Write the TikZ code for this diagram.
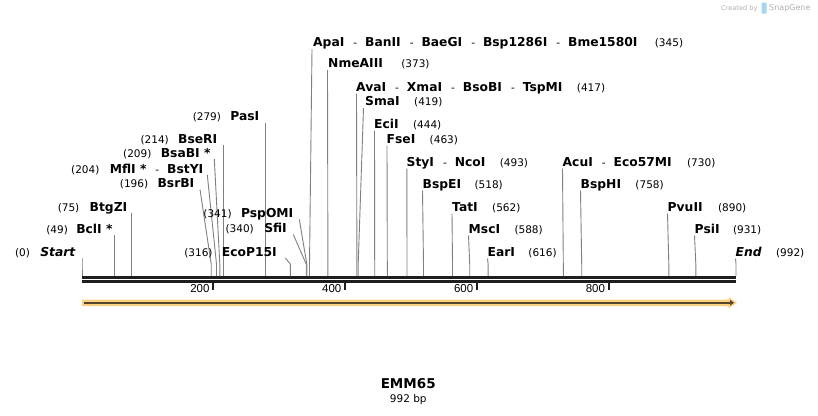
\documentclass[tikz,border=0pt]{standalone}
\usepackage{fontspec}
\setmainfont{DejaVu Sans}
\newfontfamily\tickfont{Liberation Sans}
\usetikzlibrary{arrows.meta}
\definecolor{cutgray}{HTML}{808080}
\definecolor{bbcol}{HTML}{1E1E1E}
\definecolor{bandcol}{HTML}{FCD07E}
\definecolor{arrcol}{HTML}{54462E}
\definecolor{wmgray}{HTML}{B0B0B0}
\definecolor{logoblue}{HTML}{A4D6F2}
\newcommand\sepr{\hspace{9pt}{\mdseries\fontsize{10.5}{12}\selectfont-}\hspace{8pt}}
% right-hand labels: id, x, ycenter, names, gap, number, line dx, site x
\newcommand\Rlab[8]{%
  \node[nm, anchor=base west] (#1) at (#2,#3+4.4) {#4};
  \node[num, anchor=base west] (#1n) at ([xshift=#5pt]#1.base east) {(#6)};
  \coordinate (#1b) at (#8,264);
  \coordinate (#1s) at (#8,276);
  \draw[cut] (#1.base west) ++(#7,2.1) -- (#1b) -- (#1s);
}
% left-hand labels: id, east x, ycenter, name, gap, number, line dx, site x
\newcommand\Llab[8]{%
  \node[nm, anchor=base east] (#1) at (#2,#3+4.4) {#4};
  \node[num, anchor=base east] (#1n) at ([xshift=-#5pt]#1.base west) {(#6)};
  \coordinate (#1b) at (#8,264);
  \coordinate (#1s) at (#8,276);
  \draw[cut] (#1.base east) ++(#7,1.6) -- (#1b) -- (#1s);
}
\begin{document}
\begin{tikzpicture}[x=1pt,y=-1pt,
  nm/.style={font=\fontsize{12.3}{14}\selectfont\bfseries, inner sep=0pt},
  num/.style={font=\fontsize{10.5}{12}\selectfont, inner sep=0pt},
  cut/.style={draw=cutgray, line width=0.9pt},
  bb/.style={draw=bbcol, line width=3pt},
  tickmark/.style={draw=bbcol, line width=1.8pt},
  ticklab/.style={font=\tickfont\fontsize{11.5}{13}\selectfont, inner sep=0pt, anchor=base east}]
\fill[white] (0,0) rectangle (818,415);
\useasboundingbox (0,0) rectangle (818,415);

% backbone
\coordinate (bbL) at (82,277.2); \coordinate (bbR) at (736,277.2);
\coordinate (bbL2) at (82,281.5); \coordinate (bbR2) at (736,281.5);
\draw[bb] (bbL) -- (bbR);
\draw[bb] (bbL2) -- (bbR2);

% right-hand labels
\Rlab{apa}{313}{42.5}{ApaI\sepr BanII\sepr BaeGI\sepr Bsp1286I\sepr Bme1580I}{17}{345}{-1}{309.5}
\Rlab{nme}{328}{63.5}{NmeAIII}{18}{373}{-0.5}{327.9}
\Rlab{ava}{356}{87}{AvaI\sepr XmaI\sepr BsoBI\sepr TspMI}{14}{417}{0.5}{356.9}
\Rlab{sma}{365}{101.5}{SmaI}{14}{419}{-1.5}{358.2}
\Rlab{eci}{374}{124}{EciI}{14}{444}{0.5}{374.7}
\Rlab{fse}{386.5}{139}{FseI}{14}{463}{0.5}{387.3}
\Rlab{sty}{406.5}{162}{StyI\sepr NcoI}{14}{493}{0.3}{407}
\Rlab{bspe}{422.5}{184}{BspEI}{13}{518}{0}{423.5}
\Rlab{tat}{452}{207}{TatI}{14}{562}{0}{452.5}
\Rlab{msc}{468.5}{229}{MscI}{14}{588}{0}{469.7}
\Rlab{ear}{487.5}{252}{EarI}{13}{616}{0}{488.1}
\Rlab{acu}{562.5}{162}{AcuI\sepr Eco57MI}{15}{730}{0}{563.3}
\Rlab{bsph}{580.5}{184}{BspHI}{14}{758}{0}{581.7}
\Rlab{pvu}{667.5}{207}{PvuII}{15}{890}{0}{668.8}
\Rlab{psi}{694.5}{229}{PsiI}{13}{931}{0}{695.8}
\Rlab{end}{735.5}{252}{\itshape End}{14}{992}{0}{736}

% left-hand labels
\Llab{start}{75.5}{252}{\itshape Start}{10}{0}{6.5}{82}
\Llab{bcl}{112.7}{229}{BclI *}{8}{49}{1.6}{114.3}
\Llab{btg}{127.5}{207}{BtgZI}{10}{75}{3.9}{131.4}
\Llab{bsrb}{194.5}{183.5}{BsrBI}{9}{196}{5.5}{211.2}
\Llab{mfl}{203.5}{169}{MflI *\sepr BstYI}{10}{204}{3.8}{216.5}
\Llab{bsab}{210.7}{153}{BsaBI *}{9}{209}{3.6}{219.8}
\Llab{bser}{217.5}{139}{BseRI}{9}{214}{5.6}{223.1}
\Llab{pas}{259.5}{116.5}{PasI}{9}{279}{6.4}{265.9}
\Llab{psp}{293.5}{213.3}{PspOMI}{9}{341}{5.8}{306.8}
\Llab{sfi}{287}{228.5}{SfiI}{10}{340}{6.3}{306.2}
\Llab{eco}{277}{252}{EcoP15I}{9}{316}{8.3}{290.3}

% ticks
\foreach \v/\x in {200/213.2, 400/345, 600/476.9, 800/608.7} {
  \draw[tickmark] (\x,283) -- (\x,290);
  \node[ticklab] (tick\v) at (\x-3.5,292.7) {\v};
}

% feature arrow
\fill[bandcol] (82,299.5) -- (728.5,299.5) -- (728.5,297) -- (737,302.7)
  -- (728.5,308.4) -- (728.5,306) -- (82,306) -- cycle;
\draw[arrcol, line width=2pt, -{Triangle[length=4pt,width=5.5pt]}] (84,302.7) -- (734,302.7);

% title
\node[font=\fontsize{13.5}{16}\selectfont\bfseries, inner sep=0pt, anchor=base] (title) at (408.2,388.3) {EMM65};
\node[font=\fontsize{10.5}{12}\selectfont, inner sep=0pt, anchor=base] (len) at (408.3,402.7) {992 bp};

% watermark
\node[font=\fontsize{6.6}{8}\selectfont, text=wmgray, anchor=base west, inner sep=0pt] (wm1) at (721,10) {Created by};
\fill[logoblue, rounded corners=1pt] (761.5,2.5) rectangle (766.5,13.5);
\node[font=\fontsize{8}{10}\selectfont, text=wmgray, anchor=base west, inner sep=0pt] (wm2) at (769,10.4) {SnapGene};
\end{tikzpicture}
\end{document}
